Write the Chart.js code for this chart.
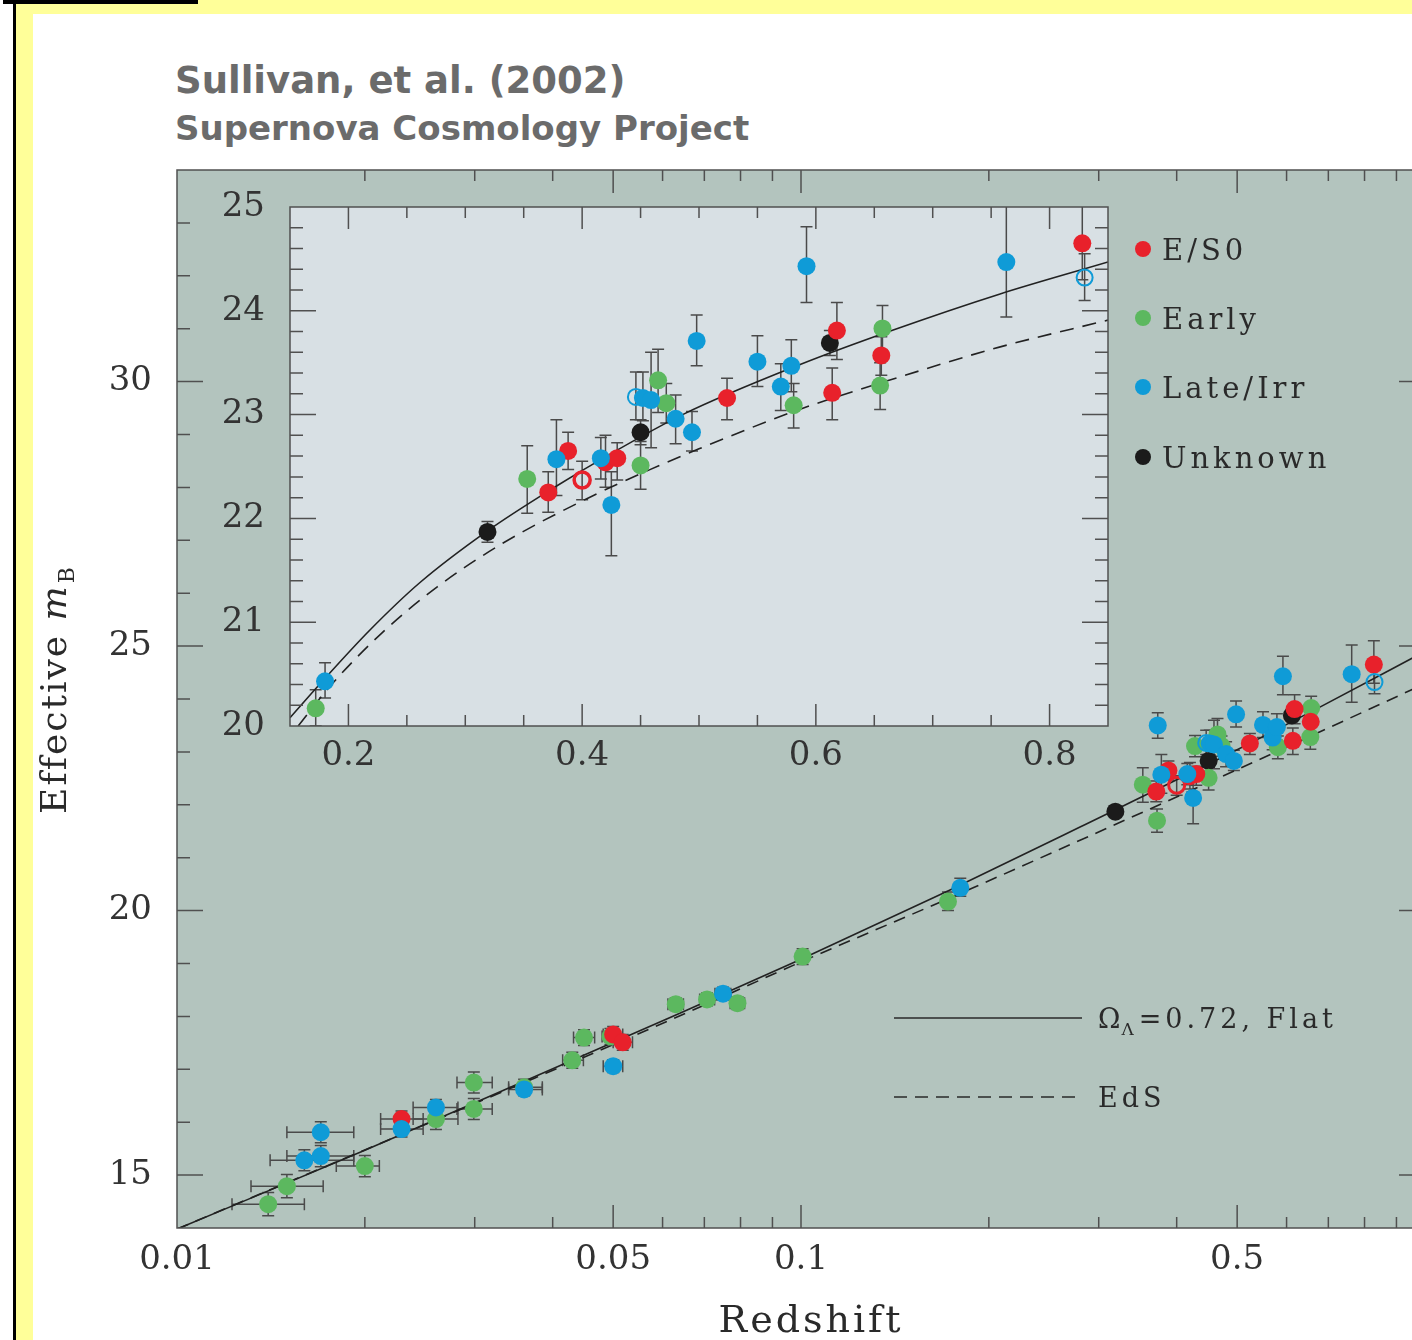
<!DOCTYPE html>
<html>
<head>
<meta charset="utf-8">
<title>Sullivan et al. (2002) - Hubble diagram by host type</title>
<script src="https://cdn.jsdelivr.net/npm/chart.js@4.4.1/dist/chart.umd.min.js"></script>
<style>
  html, body { margin: 0; padding: 0; background: #fff; overflow: hidden; width: 1412px; height: 1340px; }
  .band-top { position: absolute; left: 16px; top: 0; width: 1396px; height: 14px; background: #ffff99; }
  .band-left { position: absolute; left: 16px; top: 0; width: 17px; height: 1340px; background: #ffff99; }
  .rule-left { position: absolute; left: 13px; top: 0; width: 3px; height: 1340px; background: #000; }
  .rule-top { position: absolute; left: 3px; top: 0; width: 195px; height: 4px; background: #000; }
  .title { position: absolute; left: 175px; margin: 0; line-height: 1; white-space: nowrap;
           font-family: "DejaVu Sans", sans-serif; font-weight: bold; color: #6b6b6b; }
  #t1 { top: 62px; font-size: 37px; }
  #t2 { top: 111px; font-size: 34px; }
  canvas { position: absolute; left: 0; top: 0; }
</style>
</head>
<body>
<div class="band-top"></div>
<div class="band-left"></div>
<div class="rule-left"></div>
<div class="rule-top"></div>
<div class="title" id="t1">Sullivan, et al. (2002)</div>
<div class="title" id="t2">Supernova Cosmology Project</div>
<canvas id="mainChart" width="1440" height="1340"></canvas>
<canvas id="insetChart" width="1440" height="1340"></canvas>
<script>
// ---- values ----
// low-z sample (main panel only): [z, mag, errDown, errUp, zLo, zHi]
const earlyLowZ = [
  [0.0140, 14.45, 0.22, 0.22, 0.01225, 0.0160],
  [0.0150, 14.79, 0.22, 0.22, 0.01314, 0.01715],
  [0.0200, 15.17, 0.20, 0.20, 0.0180, 0.0211],
  [0.0260, 16.06, 0.20, 0.20, 0.0239, 0.0282],
  [0.0299, 16.25, 0.20, 0.20, 0.0281, 0.0320],
  [0.0299, 16.75, 0.20, 0.20, 0.0281, 0.0320],
  [0.0360, 16.66, 0.15, 0.15, 0.0340, 0.0385],
  [0.0430, 17.17, 0.15, 0.15, 0.0415, 0.0448],
  [0.0449, 17.60, 0.15, 0.15, 0.0432, 0.0467],
  [0.0495, 17.62, 0.15, 0.15, 0.0480, 0.0512],
  [0.0630, 18.23, 0.12, 0.12, 0.0612, 0.0648],
  [0.0707, 18.32, 0.12, 0.12, 0.0688, 0.0727],
  [0.0791, 18.25, 0.12, 0.12, 0.0770, 0.0812],
  [0.1006, 19.13, 0.15, 0.15, 0.0985, 0.1027],
];
const lateLowZ = [
  [0.0160, 15.28, 0.20, 0.20, 0.0141, 0.0192],
  [0.0170, 15.36, 0.20, 0.20, 0.0150, 0.0192],
  [0.0170, 15.81, 0.20, 0.20, 0.0150, 0.0192],
  [0.0229, 15.87, 0.15, 0.15, 0.0212, 0.0248],
  [0.0260, 16.28, 0.15, 0.15, 0.0239, 0.0282],
  [0.0360, 16.62, 0.12, 0.12, 0.0340, 0.0385],
  [0.0500, 17.06, 0.12, 0.12, 0.0482, 0.0518],
  [0.0750, 18.43, 0.12, 0.12, 0.0728, 0.0772],
];
const esoLowZ = [
  [0.0229, 16.06, 0.15, 0.15, 0.0212, 0.0248],
  [0.0500, 17.66, 0.15, 0.15, 0.0482, 0.0518],
  [0.0518, 17.51, 0.15, 0.15, 0.0500, 0.0537],
];

// high-z sample (both panels): [z, mag, errDown, errUp]
const esoHighZ = [
  [0.371, 22.25, 0.19, 0.20],
  [0.388, 22.65, 0.18, 0.18],
  [0.420, 22.54, 0.24, 0.26],
  [0.430, 22.58, 0.21, 0.15],
  [0.524, 23.16, 0.21, 0.19],
  [0.614, 23.21, 0.26, 0.24],
  [0.618, 23.81, 0.28, 0.27],
  [0.656, 23.57, 0.19, 0.18],
  [0.828, 24.65, 0.35, 0.45],
];
const esoOpen = [[0.400, 22.37, 0.19, 0.18]];
const earlyHighZ = [
  [0.172, 20.17, 0.17, 0.18],
  [0.353, 22.38, 0.33, 0.32],
  [0.450, 22.51, 0.23, 0.23],
  [0.465, 23.33, 0.31, 0.30],
  [0.472, 23.11, 0.19, 0.19],
  [0.581, 23.09, 0.22, 0.21],
  [0.655, 23.28, 0.23, 0.22],
  [0.657, 23.83, 0.22, 0.22],
];
const lateHighZ = [
  [0.180, 20.43, 0.16, 0.18],
  [0.378, 22.57, 0.35, 0.38],
  [0.416, 22.58, 0.20, 0.20],
  [0.425, 22.13, 0.49, 0.32],
  [0.452, 23.16, 0.22, 0.25],
  [0.459, 23.14, 0.46, 0.46],
  [0.480, 22.96, 0.24, 0.23],
  [0.494, 22.83, 0.18, 0.20],
  [0.498, 23.71, 0.24, 0.25],
  [0.550, 23.51, 0.24, 0.25],
  [0.570, 23.27, 0.23, 0.22],
  [0.579, 23.47, 0.25, 0.25],
  [0.592, 24.43, 0.35, 0.38],
  [0.763, 24.47, 0.53, 0.55],
];
const lateOpen = [[0.446, 23.17, 0.22, 0.24], [0.830, 24.32, 0.22, 0.23]];
const unknownHighZ = [
  [0.319, 21.87, 0.10, 0.10],
  [0.450, 22.83, 0.12, 0.12],
  [0.612, 23.69, 0.12, 0.12],
];
// only seen in the big panel
const earlyMainOnly = [[0.372, 21.70, 0.22, 0.22], [0.428, 23.11, 0.20, 0.20]];
const lateMainOnly = [[0.373, 23.50, 0.24, 0.24]];

// model curves
const flatZ = [0.01, 0.02, 0.0333, 0.0617, 0.1, 0.174, 0.28, 0.5, 0.682, 0.95, 1.0];
const flatMag = [13.98, 15.47, 16.60, 17.98, 19.08, 20.40, 21.58, 23.04, 23.86, 24.76, 24.90];
const edsZ = [0.01, 0.0333, 0.0617, 0.1, 0.174, 0.28, 0.53, 0.95, 1.0];
const edsMag = [13.98, 16.58, 17.93, 19.03, 20.25, 21.33, 22.80, 24.17, 24.29];
const insetFlatZ = [0.15, 0.18, 0.218, 0.261, 0.319, 0.375, 0.421, 0.486, 0.586, 0.665, 0.757, 0.85];
const insetFlatMag = [20.08, 20.46, 20.92, 21.38, 21.88, 22.29, 22.60, 23.00, 23.48, 23.81, 24.16, 24.47];
const insetEdsZ = [0.157, 0.184, 0.229, 0.276, 0.332, 0.404, 0.458, 0.5, 0.586, 0.671, 0.757, 0.85];
const insetEdsMag = [20.0, 20.38, 20.9, 21.34, 21.76, 22.19, 22.47, 22.67, 23.05, 23.36, 23.65, 23.91];

// ticks
const mainXTicks = [0.01, 0.05, 0.1, 0.5];
const mainXMinor = [0.02, 0.03, 0.04, 0.06, 0.07, 0.08, 0.09, 0.2, 0.3, 0.4, 0.6, 0.7, 0.8, 0.9];
const mainYTicks = [15, 20, 25, 30];
const insetXTicks = [0.2, 0.4, 0.6, 0.8];
const insetYTicks = [20, 21, 22, 23, 24, 25];

const RED = "#e8212b";
const GREEN = "#5cb85f";
const BLUE = "#0f9bd7";
const BLACK = "#1b1b1b";
const INK = "#505050";

const toPoints = (rows) =>
  rows.map((r) => ({ x: r[0], y: r[1], down: r[2], up: r[3], zLo: r[4], zHi: r[5] }));
const toCurve = (zs, ms) => zs.map((z, i) => ({ x: z, y: ms[i] }));

function range(from, to, step, skip) {
  const out = [];
  for (let v = from; v <= to + 1e-9; v += step) {
    const r = Math.round(v * 100) / 100;
    if (!skip.some((s) => Math.abs(s - r) < 1e-6)) out.push(r);
  }
  return out;
}

function hostSet(label, rows, color, order) {
  return {
    label,
    data: toPoints(rows),
    backgroundColor: color,
    borderColor: color,
    borderWidth: 0,
    pointRadius: 9,
    order,
    errorBars: true,
  };
}
function openSet(label, rows, color, width, order) {
  return {
    label,
    data: toPoints(rows),
    backgroundColor: "rgba(0,0,0,0)",
    borderColor: color,
    borderWidth: width,
    pointRadius: 8,
    order,
    errorBars: true,
  };
}
function curveSet(label, zs, ms, dash) {
  return {
    label,
    data: toCurve(zs, ms),
    showLine: true,
    borderColor: "#222",
    borderWidth: 1.6,
    borderDash: dash,
    pointRadius: 0,
    cubicInterpolationMode: "monotone",
    order: 10,
  };
}

// error bars, drawn under the points
const errorBars = {
  id: "errorBars",
  beforeDatasetsDraw(chart) {
    const { ctx, chartArea: a, scales } = chart;
    const xs = scales.x, ys = scales.y;
    const cap = 6;
    ctx.save();
    ctx.beginPath();
    ctx.rect(a.left, a.top, a.width, a.height);
    ctx.clip();
    ctx.strokeStyle = "#4a4a4a";
    ctx.lineWidth = 1.5;
    chart.data.datasets.forEach((ds) => {
      if (!ds.errorBars) return;
      ds.data.forEach((p) => {
        const px = xs.getPixelForValue(p.x);
        const py = ys.getPixelForValue(p.y);
        const top = ys.getPixelForValue(p.y + p.up);
        const bot = ys.getPixelForValue(p.y - p.down);
        ctx.beginPath();
        ctx.moveTo(px, top); ctx.lineTo(px, bot);
        ctx.moveTo(px - cap, top); ctx.lineTo(px + cap, top);
        ctx.moveTo(px - cap, bot); ctx.lineTo(px + cap, bot);
        if (p.zLo) {
          const l = xs.getPixelForValue(p.zLo);
          const r = xs.getPixelForValue(p.zHi);
          ctx.moveTo(l, py); ctx.lineTo(r, py);
          ctx.moveTo(l, py - cap); ctx.lineTo(l, py + cap);
          ctx.moveTo(r, py - cap); ctx.lineTo(r, py + cap);
        }
        ctx.stroke();
      });
    });
    ctx.restore();
  },
};

// panel background, box and inward ticks on all four sides
function frame(cfg) {
  return {
    id: "frame",
    beforeDraw(chart) {
      const { ctx, chartArea: a } = chart;
      ctx.save();
      ctx.fillStyle = cfg.fill;
      ctx.fillRect(a.left, a.top, a.width, a.height);
      ctx.restore();
    },
    afterDatasetsDraw(chart) {
      const { ctx, chartArea: a, scales } = chart;
      ctx.save();
      ctx.strokeStyle = INK;
      ctx.lineWidth = 1.5;
      ctx.beginPath();
      const tx = (v, len) => {
        const p = scales.x.getPixelForValue(v);
        ctx.moveTo(p, a.bottom); ctx.lineTo(p, a.bottom - len);
        ctx.moveTo(p, a.top); ctx.lineTo(p, a.top + len);
      };
      const ty = (v, len) => {
        const p = scales.y.getPixelForValue(v);
        ctx.moveTo(a.left, p); ctx.lineTo(a.left + len, p);
        ctx.moveTo(a.right, p); ctx.lineTo(a.right - len, p);
      };
      cfg.xMinor.forEach((v) => tx(v, cfg.minorX));
      cfg.xMajor.forEach((v) => tx(v, cfg.majorX));
      cfg.yMinor.forEach((v) => ty(v, cfg.minorY));
      cfg.yMajor.forEach((v) => ty(v, cfg.majorY));
      ctx.stroke();
      ctx.strokeRect(a.left, a.top, a.width, a.height);
      ctx.restore();
    },
  };
}

// axis titles and the two legends of the big panel
const annotations = {
  id: "annotations",
  afterDraw(chart) {
    const { ctx } = chart;
    ctx.save();
    ctx.fillStyle = "#2a2a2a";
    ctx.textBaseline = "alphabetic";

    // x title
    ctx.letterSpacing = "3px";
    ctx.font = '38px "DejaVu Serif"';
    ctx.textAlign = "center";
    ctx.fillText("Redshift", 811, 1332);

    // y title, rotated, with italic m and subscript B
    ctx.save();
    ctx.translate(66, 690);
    ctx.rotate(-Math.PI / 2);
    ctx.textAlign = "left";
    ctx.letterSpacing = "2px";
    ctx.font = '36px "DejaVu Serif"';
    const part1 = "Effective ";
    const w1 = ctx.measureText(part1).width;
    ctx.font = 'italic 36px "DejaVu Serif"';
    const w2 = ctx.measureText("m").width;
    ctx.font = '22px "DejaVu Serif"';
    const w3 = ctx.measureText("B").width;
    let x0 = -(w1 + w2 + w3) / 2;
    ctx.font = '36px "DejaVu Serif"';
    ctx.fillText(part1, x0, 0);
    ctx.font = 'italic 36px "DejaVu Serif"';
    ctx.fillText("m", x0 + w1, 0);
    ctx.font = '22px "DejaVu Serif"';
    ctx.fillText("B", x0 + w1 + w2 + 1, 8);
    ctx.restore();

    // host type legend
    const hosts = [["E/S0", RED, 249], ["Early", GREEN, 318], ["Late/Irr", BLUE, 387], ["Unknown", BLACK, 457]];
    ctx.textAlign = "left";
    ctx.letterSpacing = "4px";
    ctx.font = '29px "DejaVu Serif"';
    hosts.forEach(([name, color, y]) => {
      ctx.fillStyle = color;
      ctx.beginPath();
      ctx.arc(1143, y, 8, 0, Math.PI * 2);
      ctx.fill();
      ctx.fillStyle = "#2a2a2a";
      ctx.fillText(name, 1162, y + 11);
    });

    // model legend
    ctx.strokeStyle = "#2a2a2a";
    ctx.lineWidth = 1.6;
    ctx.beginPath();
    ctx.moveTo(894, 1018); ctx.lineTo(1082, 1018);
    ctx.stroke();
    ctx.setLineDash([13, 8]);
    ctx.beginPath();
    ctx.moveTo(894, 1097); ctx.lineTo(1082, 1097);
    ctx.stroke();
    ctx.setLineDash([]);

    ctx.font = '27px "DejaVu Serif"';
    ctx.fillText("\u03A9", 1098, 1028);
    const wO = ctx.measureText("\u03A9").width;
    ctx.font = '17px "DejaVu Serif"';
    ctx.fillText("\u039B", 1098 + wO - 3, 1035);
    const wL = ctx.measureText("\u039B").width;
    ctx.font = '27px "DejaVu Serif"';
    ctx.fillText("=0.72, Flat", 1098 + wO + wL - 2, 1028);
    ctx.fillText("EdS", 1098, 1107);
    ctx.restore();
  },
};

const tickFont = { family: "DejaVu Serif", size: 34 };

// ---- big panel: effective B magnitude vs redshift ----
const mainChart = new Chart(document.getElementById("mainChart"), {
  type: "scatter",
  data: {
    datasets: [
      curveSet("Flat", flatZ, flatMag, []),
      curveSet("EdS", edsZ, edsMag, [12, 8]),
      hostSet("Unknown", unknownHighZ, BLACK, 6),
      hostSet("Early", earlyLowZ.concat(earlyHighZ, earlyMainOnly), GREEN, 5),
      hostSet("E/S0", esoLowZ.concat(esoHighZ), RED, 4),
      openSet("E/S0 (open)", esoOpen, RED, 3, 4),
      hostSet("Late/Irr", lateLowZ.concat(lateHighZ, lateMainOnly), BLUE, 3),
      openSet("Late/Irr (open)", lateOpen, BLUE, 2, 3),
    ],
  },
  options: {
    responsive: false,
    animation: false,
    events: [],
    layout: { padding: { left: 77, top: 170, right: 15, bottom: 52 } },
    plugins: { legend: { display: false }, tooltip: { enabled: false } },
    scales: {
      x: {
        type: "logarithmic",
        min: 0.01,
        max: 1,
        grid: { display: false, drawTicks: false },
        border: { display: false },
        afterBuildTicks: (s) => { s.ticks = mainXTicks.map((v) => ({ value: v })); },
        afterFit: (s) => { s.height = 60; },
        ticks: {
          autoSkip: false,
          maxRotation: 0,
          padding: 12,
          color: "#333",
          font: tickFont,
          callback: (v) => String(v),
        },
      },
      y: {
        min: 14,
        max: 34,
        grid: { display: false, drawTicks: false },
        border: { display: false },
        afterBuildTicks: (s) => { s.ticks = mainYTicks.map((v) => ({ value: v })); },
        afterFit: (s) => { s.width = 100; },
        ticks: { padding: 25, color: "#333", font: tickFont },
      },
    },
  },
  plugins: [
    frame({
      fill: "#b3c4be",
      xMajor: [0.05, 0.1, 0.5], xMinor: mainXMinor,
      yMajor: mainYTicks, yMinor: range(15, 33, 1, mainYTicks),
      majorX: 23, minorX: 11, majorY: 26, minorY: 13,
    }),
    errorBars,
    annotations,
  ],
});

// ---- inset: zoom on the high-redshift sample ----
const insetChart = new Chart(document.getElementById("insetChart"), {
  type: "scatter",
  data: {
    datasets: [
      curveSet("Flat", insetFlatZ, insetFlatMag, []),
      curveSet("EdS", insetEdsZ, insetEdsMag, [14, 9]),
      hostSet("Unknown", unknownHighZ, BLACK, 6),
      hostSet("Early", earlyHighZ, GREEN, 5),
      hostSet("E/S0", esoHighZ, RED, 4),
      openSet("E/S0 (open)", esoOpen, RED, 3.5, 4),
      hostSet("Late/Irr", lateHighZ, BLUE, 3),
      openSet("Late/Irr (open)", lateOpen, BLUE, 2, 3),
    ],
  },
  options: {
    responsive: false,
    animation: false,
    events: [],
    layout: { padding: { left: 210, top: 207, right: 332, bottom: 554 } },
    plugins: { legend: { display: false }, tooltip: { enabled: false } },
    scales: {
      x: {
        type: "linear",
        min: 0.15,
        max: 0.85,
        bounds: "data",
        grid: { display: false, drawTicks: false },
        border: { display: false },
        afterBuildTicks: (s) => { s.ticks = insetXTicks.map((v) => ({ value: v })); },
        afterFit: (s) => { s.height = 60; },
        ticks: { autoSkip: false, maxRotation: 0, padding: 10, color: "#333", font: tickFont },
      },
      y: {
        min: 20,
        max: 25,
        bounds: "data",
        grid: { display: false, drawTicks: false },
        border: { display: false },
        afterBuildTicks: (s) => { s.ticks = insetYTicks.map((v) => ({ value: v })); },
        afterFit: (s) => { s.width = 80; },
        ticks: { padding: 25, color: "#333", font: tickFont },
      },
    },
  },
  plugins: [
    frame({
      fill: "#d8e0e4",
      xMajor: insetXTicks, xMinor: range(0.25, 0.75, 0.05, insetXTicks),
      yMajor: [21, 22, 23, 24], yMinor: range(20.2, 24.8, 0.2, insetYTicks),
      majorX: 22, minorX: 11, majorY: 26, minorY: 13,
    }),
    errorBars,
  ],
});
</script>
</body>
</html>
